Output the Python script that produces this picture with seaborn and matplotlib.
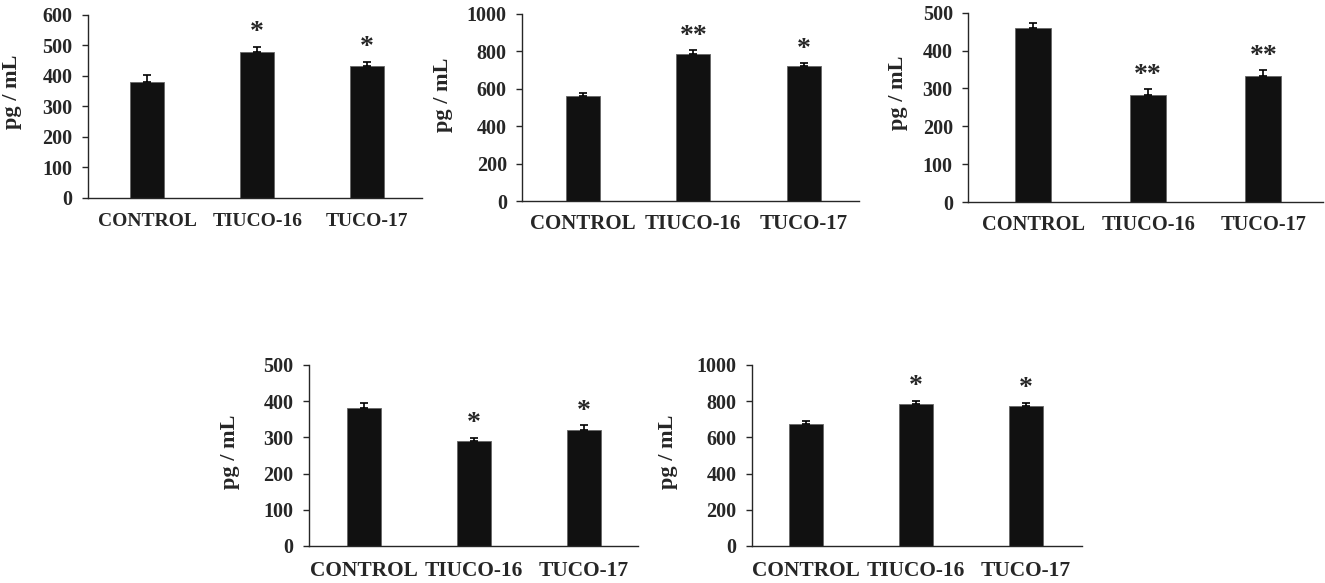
import numpy as np
import pandas as pd
import matplotlib
matplotlib.use("Agg")
import matplotlib.pyplot as plt
import seaborn as sns

groups = ["CONTROL", "TIUCO-16", "TUCO-17"]

means_a = [380, 477, 432]
errs_a = [22, 19, 15]
stars_a = ["", "*", "*"]

means_b = [560, 785, 720]
errs_b = [17, 20, 17]
stars_b = ["", "**", "*"]

means_c = [460, 283, 332]
errs_c = [13, 15, 16]
stars_c = ["", "**", "**"]

means_d = [380, 290, 320]
errs_d = [14, 9, 13]
stars_d = ["", "*", "*"]

means_e = [672, 785, 772]
errs_e = [18, 17, 20]
stars_e = ["", "*", "*"]

yticks_a = [0, 100, 200, 300, 400, 500, 600]
yticks_b = [0, 200, 400, 600, 800, 1000]
yticks_c = [0, 100, 200, 300, 400, 500]
yticks_d = [0, 100, 200, 300, 400, 500]
yticks_e = [0, 200, 400, 600, 800, 1000]

sns.set_style("ticks")
plt.rcParams["font.family"] = ["Liberation Serif", "DejaVu Serif"]
plt.rcParams["font.weight"] = "bold"

fig = plt.figure(figsize=(13.25, 5.83), dpi=100)

# rect, xlim, ylabel coords, tamaño etiqueta x, pad etiqueta x
paneles = [
    ([0.0664, 0.6604, 0.2521, 0.3139], (-0.54, 2.50), (-0.198, 0.579), 14.0, 11,
     means_a, errs_a, stars_a, yticks_a),
    ([0.3940, 0.6552, 0.2543, 0.3208], (-0.55, 2.50), (-0.205, 0.567), 15.0, 9,
     means_b, errs_b, stars_b, yticks_b),
    ([0.7306, 0.6535, 0.2680, 0.3247], (-0.565, 2.52), (-0.169, 0.576), 14.7, 9,
     means_c, errs_c, stars_c, yticks_c),
    ([0.2332, 0.0635, 0.2483, 0.3105], (-0.50, 2.49), (-0.210, 0.519), 15.4, 11,
     means_d, errs_d, stars_d, yticks_d),
    ([0.5675, 0.0635, 0.2490, 0.3105], (-0.49, 2.51), (-0.224, 0.519), 15.4, 11,
     means_e, errs_e, stars_e, yticks_e),
]

for rect, xlim, lab_xy, xsize, xpad, means, errs, stars, yticks in paneles:
    ax = fig.add_axes(rect)
    df = pd.DataFrame({"grupo": groups, "valor": means})
    sns.barplot(data=df, x="grupo", y="valor", errorbar=None, color="#111111",
                edgecolor="#666666", linewidth=0.6, width=0.31, saturation=1, ax=ax)
    xs = np.arange(len(groups))
    ax.errorbar(xs, means, yerr=[np.zeros(len(errs)), errs], fmt="none",
                ecolor="black", elinewidth=1.2, capsize=3, capthick=1.2)
    for x, m, e, s in zip(xs, means, errs, stars):
        if s:
            ax.annotate(s, (x, m + e), xytext=(0, 1), textcoords="offset points",
                        ha="center", va="bottom", fontsize=20, fontweight="bold")
    ax.set_xlim(*xlim)
    ax.set_ylim(yticks[0], yticks[-1])
    ax.set_yticks(yticks)
    ax.set_xlabel("")
    ax.set_ylabel("pg / mL", fontsize=16, fontweight="bold")
    ax.yaxis.set_label_coords(*lab_xy)
    ax.tick_params(axis="y", labelsize=14.5, length=4, width=1, pad=7)
    ax.tick_params(axis="x", labelsize=xsize, length=0, pad=xpad)
    for lab in ax.get_xticklabels() + ax.get_yticklabels():
        lab.set_fontweight("bold")
    sns.despine(ax=ax)
    ax.spines["left"].set_linewidth(1)
    ax.spines["bottom"].set_linewidth(1)

plt.savefig("out.png", dpi=100)
plt.close()
